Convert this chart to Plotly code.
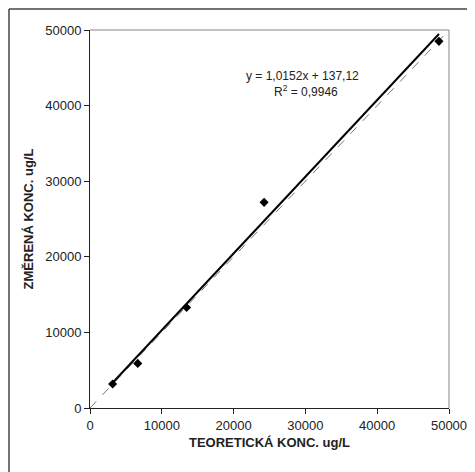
import plotly.graph_objects as go

teor = [3150, 6650, 13450, 24250, 48600]
zmer = [3180, 5900, 13300, 27200, 48500]
slope = 1.0152
intercept = 137.12
ticks = [0, 10000, 20000, 30000, 40000, 50000]

fit_x = [min(teor), max(teor)]
fit_y = [slope * v + intercept for v in fit_x]

fig = go.Figure()
fig.add_trace(go.Scatter(x=[0, 50000], y=[0, 50000], mode="lines",
                         line=dict(color="#777777", width=1, dash="dash"),
                         showlegend=False, hoverinfo="skip"))
fig.add_trace(go.Scatter(x=fit_x, y=fit_y, mode="lines",
                         line=dict(color="black", width=2),
                         showlegend=False))
fig.add_trace(go.Scatter(x=teor, y=zmer, mode="markers",
                         marker=dict(symbol="diamond", size=7, color="black"),
                         showlegend=False))

font = dict(family="Liberation Sans, Arial, sans-serif", color="#222222")
axis_common = dict(range=[0, 50000], tickvals=ticks,
                   ticktext=[str(t) for t in ticks],
                   showgrid=False, zeroline=False, showline=True,
                   linecolor="#222222", linewidth=1, automargin=False,
                   ticks="outside", ticklen=5, tickcolor="#222222",
                   tickfont=dict(size=13, **font))

L, T, W, H = 82, 22, 359, 378
bx = (1.0 - L) / W
by = 1 + (T - 1.0) / H

fig.update_layout(
    width=475, height=472,
    margin=dict(l=L, r=475 - L - W, t=T, b=472 - T - H),
    paper_bgcolor="white", plot_bgcolor="white",
    xaxis=dict(**axis_common,
               title=dict(text="<b>TEORETICKÁ KONC. ug/L</b>", font=dict(size=13, **font), standoff=6)),
    yaxis=dict(**axis_common,
               title=dict(text="<b>ZMĚRENÁ KONC. ug/L</b>", font=dict(size=13, **font), standoff=8)),
    shapes=[
        dict(type="line", xref="paper", yref="paper", x0=0, x1=1, y0=1, y1=1,
             line=dict(color="#888888", width=1)),
        dict(type="line", xref="paper", yref="paper", x0=1, x1=1, y0=0, y1=1,
             line=dict(color="#888888", width=1)),
        dict(type="line", xref="paper", yref="paper",
             x0=bx, x1=1.2, y0=by, y1=by,
             line=dict(color="#444444", width=1.5)),
        dict(type="line", xref="paper", yref="paper",
             x0=bx, x1=bx, y0=-0.3, y1=by,
             line=dict(color="#444444", width=1.5)),
    ],
    annotations=[
        dict(x=(302-90)/W, y=(408-67)/H, xref="paper", yref="paper",
             text="y = 1,0152x + 137,12", showarrow=False,
             font=dict(size=12, **font)),
        dict(x=(306-90)/W, y=(408-81)/H, xref="paper", yref="paper",
             text="R<sup>2</sup> = 0,9946", showarrow=False,
             font=dict(size=12, **font)),
    ],
)

fig.write_html("out.html")
